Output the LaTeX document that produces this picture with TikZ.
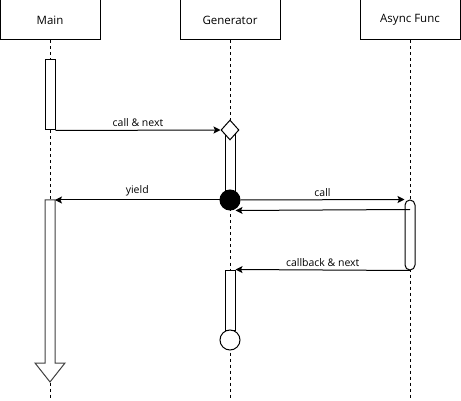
\documentclass[tikz,border=0pt]{standalone}
\usepackage{fontspec}
\setmainfont{Open Sans}
\usetikzlibrary{
    shapes.geometric,
    arrows.meta,
    positioning,
    calc}

\begin{document}
\begin{tikzpicture}[x=1pt, y=-1pt, line width=1pt,
    actor/.style={draw, minimum width=100pt, minimum height=40pt, inner sep=0pt, font=\fontsize{11.5}{14}\selectfont},
    lifeline/.style={dash pattern=on 3pt off 3pt},
    actbar/.style={draw, fill=white, minimum width=10pt, inner sep=0pt},
    msg/.style={-{Stealth[length=7pt, width=7pt, inset=1.5pt]}},
    msglabel/.style={above, inner sep=3pt, font=\fontsize{10.5}{12}\selectfont}]
    \useasboundingbox (0,0) rectangle (461,401);
    \node[actor] (main) at (50,20) {Main};
    \node[actor] (gen) at (230,20) {Generator};
    \node[actor] (async) at (410,20) {Async Func};
    \foreach \n/\x in {main/50, gen/230, async/410} {
      \draw [lifeline] (\n.south) -- (\x,400);
    }
    \node[actbar, minimum height=70pt] (mainact) at (50,95) {};
    \node[actbar, minimum height=70pt] (genact) at (230,165) {};
    \node[actbar, minimum height=70pt, rounded corners=5pt] (asyncact) at (410,235) {};
    \node[actbar, minimum height=60pt] (genresume) at (230,300) {};
    \node[diamond, draw, fill=white, minimum width=18pt, minimum height=20pt, inner sep=0pt] (entry) at (230,130) {};
    \node[circle, draw, fill=black, minimum size=20pt, inner sep=0pt] (suspend) at (230,200) {};
    \node[circle, draw, fill=white, minimum size=20pt, inner sep=0pt] (done) at (230,340) {};
    \draw [draw=black!75, fill=white] (45,200) -- (45,363) -- (35,363) -- (50,382) -- (65,363) -- (55,363) -- (55,200) -- cycle;
    \coordinate (mainret) at (55,200);
    \draw [msg] (mainact.south east) -- node[msglabel] {call \& next} (entry.west);
    \draw [msg] (suspend.west) -- node[msglabel] {yield} (mainret);
    \draw [msg] (suspend.east) -- node[msglabel] {call} (asyncact.north west);
    \draw [msg] ($(asyncact.north)+(0,10)$) -- ($(genact.south east)+(0,10)$);
    \draw [msg] (asyncact.south) -- node[msglabel] {callback \& next} (genresume.north east);
  \end{tikzpicture}
\end{document}
